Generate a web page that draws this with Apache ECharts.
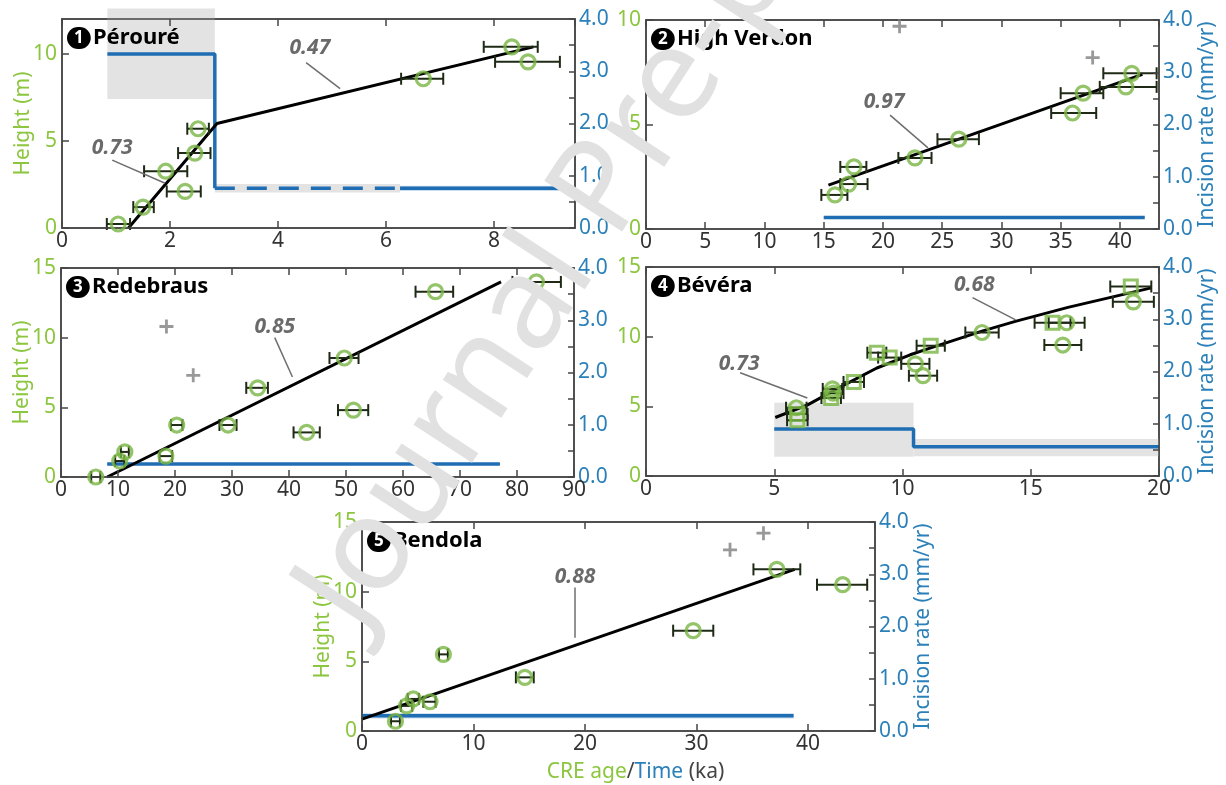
<!DOCTYPE html>
<html><head><meta charset="utf-8">
<script src="https://cdn.jsdelivr.net/npm/echarts@6/dist/echarts.min.js"></script>
<style>html,body{margin:0;padding:0;background:#fff}#c{width:1226px;height:785px}</style>
</head><body><div id="c"></div>
<script>
// ---------- DATA ----------
// Panel 1 – Pérouré
const p1Age    = [1.04, 1.5, 1.92, 2.28, 2.46, 2.52, 6.69, 8.33, 8.63];
const p1AgeLo  = [0.83, 1.32, 1.52, 1.94, 2.15, 2.32, 6.28, 7.81, 8.02];
const p1AgeHi  = [1.26, 1.70, 2.32, 2.57, 2.75, 2.72, 7.06, 8.81, 9.22];
const p1Height = [0.23, 1.2, 3.26, 2.1, 4.3, 5.7, 8.57, 10.4, 9.54];
const p1Fit    = [[1.23, 0], [2.87, 6.0], [8.73, 10.4]];
const p1Rate   = [[0.84, 3.33], [2.83, 3.33], [2.83, 0.76]];
const p1RateDashed = [[2.83, 0.76], [6.26, 0.76]];
const p1Rate2  = [[6.26, 0.76], [9.5, 0.76]];
const p1Bands  = [[0.84, 2.83, 2.47, 4.2], [2.83, 6.26, 0.68, 0.84]];
const p1BlueBands = [[6.26, 9.5, 0.71, 0.81]];
const p1Labels = [{ text: '0.73', at: [0.93, 4.57], from: [0.93, 3.9], to: [1.91, 2.57] },
                  { text: '0.47', at: [4.59, 10.34], from: [4.52, 9.49], to: [5.15, 8.0] }];

// Panel 2 – High Verdon
const p2Age    = [15.95, 17.1, 17.55, 22.7, 26.4, 36.0, 36.9, 40.5, 41.0];
const p2AgeLo  = [14.8, 16.4, 16.4, 21.3, 24.6, 34.2, 35.0, 38.3, 38.6];
const p2AgeHi  = [17.0, 18.7, 18.6, 24.1, 28.1, 38.0, 38.6, 43.1, 43.1];
const p2Height = [1.63, 2.15, 2.97, 3.4, 4.3, 5.55, 6.5, 6.8, 7.45];
const p2Crosses = [[21.4, 9.7], [37.7, 8.2]];
const p2Fit    = [[15.4, 2.1], [41.9, 7.4]];
const p2Rate   = [[15.0, 0.22], [42.1, 0.22]];
const p2Labels = [{ text: '0.97', at: [20.1, 6.08], from: [20.6, 5.45], to: [23.8, 3.88] }];

// Panel 3 – Redebraus
const p3Age    = [6.1, 10.3, 11.2, 18.4, 20.3, 29.3, 34.5, 43.1, 49.7, 51.3, 65.7, 83.4];
const p3AgeLo  = [5.3, 9.5, 10.5, 17.3, 19.3, 27.8, 32.5, 40.8, 47.1, 48.6, 62.2, 79.2];
const p3AgeHi  = [6.9, 11.1, 11.9, 19.5, 21.3, 30.8, 36.3, 45.4, 52.2, 53.9, 68.8, 87.7];
const p3Height = [0, 1.15, 1.8, 1.5, 3.73, 3.73, 6.4, 3.2, 8.54, 4.8, 13.3, 14.0];
const p3Crosses = [[18.5, 10.8], [23.2, 7.3]];
const p3Fit    = [[8.1, 0], [77.2, 14.0]];
const p3Rate   = [[8.1, 0.25], [77.0, 0.25]];
const p3Labels = [{ text: '0.85', at: [37.5, 10.77], from: [37.5, 10.0], to: [40.6, 7.18] }];

// Panel 4 – Bévéra (circles and squares)
const p4CircAge    = [5.86, 7.27, 7.3, 10.5, 10.8, 13.1, 16.25, 16.4, 19.0];
const p4CircErr    = [0.4, 0.38, 0.4, 0.55, 0.55, 0.65, 0.72, 0.7, 0.8];
const p4CircHeight = [4.9, 6.25, 5.95, 8.05, 7.2, 10.3, 9.4, 11.0, 12.5];
const p4SqAge      = [5.9, 5.9, 7.22, 8.1, 9.0, 9.5, 11.1, 15.85, 18.9];
const p4SqErr      = [0.4, 0.4, 0.38, 0.4, 0.37, 0.45, 0.55, 0.7, 0.8];
const p4SqHeight   = [4.45, 4.0, 5.6, 6.75, 8.85, 8.5, 9.35, 11.0, 13.6];
const p4Fit  = [[5.04, 4.2], [6.3, 5.1], [7.7, 6.5], [9.0, 7.75], [10.3, 8.7], [11.1, 9.2],
                [13.1, 10.4], [14.4, 11.1], [16.45, 12.1], [19.7, 13.5]];
const p4Rate = [[5.0, 0.9], [10.43, 0.9], [10.43, 0.56], [20.0, 0.56]];
const p4Bands = [[5.0, 10.43, 0.37, 1.40], [10.43, 20.0, 0.38, 0.71]];
const p4Labels = [{ text: '0.73', at: [3.63, 8.06], from: [3.67, 7.41], to: [6.29, 5.6] },
                  { text: '0.68', at: [12.8, 13.74], from: [12.73, 12.8], to: [14.41, 11.2] }];

// Panel 5 – Bendola
const p5Age    = [3.0, 4.0, 4.6, 6.1, 7.3, 14.6, 29.7, 37.2, 43.1];
const p5AgeLo  = [2.6, 3.5, 4.1, 5.5, 6.9, 13.8, 27.9, 35.1, 40.8];
const p5AgeHi  = [3.4, 4.5, 5.1, 6.6, 7.7, 15.4, 31.5, 39.3, 45.3];
const p5Height = [0.7, 1.8, 2.3, 2.1, 5.5, 3.85, 7.2, 11.6, 10.5];
const p5Crosses = [[33.0, 13.0], [36.0, 14.2]];
const p5Fit    = [[0, 0.85], [38.8, 11.6]];
const p5Rate   = [[0, 0.29], [38.7, 0.29]];
const p5BlueBands = [[0, 38.7, 0.24, 0.34]];
const p5Labels = [{ text: '0.88', at: [19.1, 11.07], from: [19.1, 10.3], to: [19.1, 6.7] }];

const panelNames = ['Pérouré', 'High Verdon', 'Redebraus', 'Bévéra', 'Bendola'];
const xMaxes = [9.5, 43.3, 90, 20, 46];
const xSteps = [2, 5, 10, 5, 10];
const yMaxes = [12, 10, 15, 15, 15];

// ---------- STYLE / LAYOUT ----------
const FONT = 'Noto Sans';
const AX = '#454545', GTXT = '#8cc63f', GMK = '#79b543', BTXT = '#2c80b9', BLN = '#1f6db3';
const ERR = '#1f2a16';
const layout = [{ left: 62, top: 19 }, { left: 646, top: 20 }, { left: 61, top: 268 }, { left: 646, top: 267 }, { left: 362, top: 522 }];
const W = 513, H = 209;

function zip3(a, b, c) { return a.map((v, i) => [v, b[i], c[i]]); }
function errFromPm(age, err, h) { return age.map((v, i) => [v - err[i], v + err[i], h[i]]); }

const panels = [
  { err: zip3(p1AgeLo, p1AgeHi, p1Height), circ: p1Age.map((v, i) => [v, p1Height[i]]), sq: [], crosses: [],
    fit: p1Fit, rates: [p1Rate, p1Rate2], dashed: [p1RateDashed], bands: p1Bands, blueBands: p1BlueBands, labels: p1Labels,
    leftName: true, rightName: false },
  { err: zip3(p2AgeLo, p2AgeHi, p2Height), circ: p2Age.map((v, i) => [v, p2Height[i]]), sq: [], crosses: p2Crosses,
    fit: p2Fit, rates: [p2Rate], dashed: [], bands: [], blueBands: [], labels: p2Labels, leftName: false, rightName: true },
  { err: zip3(p3AgeLo, p3AgeHi, p3Height), circ: p3Age.map((v, i) => [v, p3Height[i]]), sq: [], crosses: p3Crosses,
    fit: p3Fit, rates: [p3Rate], dashed: [], bands: [], blueBands: [], labels: p3Labels, leftName: true, rightName: false },
  { err: errFromPm(p4CircAge, p4CircErr, p4CircHeight).concat(errFromPm(p4SqAge, p4SqErr, p4SqHeight)),
    circ: p4CircAge.map((v, i) => [v, p4CircHeight[i]]), sq: p4SqAge.map((v, i) => [v, p4SqHeight[i]]), crosses: [],
    fit: p4Fit, rates: [p4Rate], dashed: [], bands: p4Bands, blueBands: [], labels: p4Labels, leftName: false, rightName: true },
  { err: zip3(p5AgeLo, p5AgeHi, p5Height), circ: p5Age.map((v, i) => [v, p5Height[i]]), sq: [], crosses: p5Crosses,
    fit: p5Fit, rates: [p5Rate], dashed: [], bands: [], blueBands: p5BlueBands, labels: p5Labels, leftName: true, rightName: true, xName: true }
];

const grids = [], xAxes = [], yAxes = [], series = [], titles = [];
const tickLabel = { fontSize: 21, fontFamily: FONT };

function errRender(params, api) {
  const a = api.coord([api.value(0), api.value(2)]);
  const b = api.coord([api.value(1), api.value(2)]);
  const c = 6, st = { stroke: ERR, lineWidth: 2 };
  return { type: 'group', children: [
    { type: 'line', shape: { x1: a[0], y1: a[1], x2: b[0], y2: b[1] }, style: st },
    { type: 'line', shape: { x1: a[0], y1: a[1] - c, x2: a[0], y2: a[1] + c }, style: st },
    { type: 'line', shape: { x1: b[0], y1: b[1] - c, x2: b[0], y2: b[1] + c }, style: st }
  ] };
}
function bandRender(color) {
  return function (params, api) {
    const p1 = api.coord([api.value(0), api.value(3)]);
    const p2 = api.coord([api.value(1), api.value(2)]);
    return { type: 'rect', shape: { x: p1[0], y: p1[1], width: p2[0] - p1[0], height: p2[1] - p1[1] }, style: { fill: color } };
  };
}
function labelRender(labels) {
  return function (params, api) {
    const L = labels[params.dataIndex];
    const t = api.coord([api.value(0), api.value(1)]);
    const a = api.coord([api.value(2), api.value(3)]);
    const b = api.coord([api.value(4), api.value(5)]);
    return { type: 'group', children: [
      { type: 'line', shape: { x1: a[0], y1: a[1], x2: b[0], y2: b[1] }, style: { stroke: '#6e6e6e', lineWidth: 1.5 } },
      { type: 'text', x: t[0], y: t[1], style: { text: L.text, fill: '#6a6a6a', fontSize: 21, fontWeight: 'bold', fontStyle: 'italic',
        fontFamily: FONT, align: 'center', verticalAlign: 'middle' } }
    ] };
  };
}

panels.forEach((p, i) => {
  const L = layout[i];
  grids.push({ left: L.left, top: L.top, width: W, height: H, show: true, borderColor: AX, borderWidth: 1.5 });
  const xBase = {
    gridIndex: i, type: 'value', min: 0, max: xMaxes[i], interval: xSteps[i], z: 5,
    axisLine: { show: true, onZero: false, lineStyle: { color: AX, width: 1.5 } },
    axisTick: { show: true, inside: true, length: 7, lineStyle: { color: AX, width: 1.5 } },
    splitLine: { show: false }
  };
  xAxes.push(Object.assign({}, xBase, {
    position: 'bottom',
    axisLabel: Object.assign({ color: '#333', margin: 3, showMaxLabel: xMaxes[i] % xSteps[i] === 0 }, tickLabel),
    name: p.xName ? '{g|CRE age}{k|/}{b|Time}{k| (ka)}' : '', nameLocation: 'middle', nameGap: 31,
    nameTextStyle: { padding: [0, 0, 0, 34], rich: {
      g: { color: GTXT, fontSize: 21, fontFamily: FONT }, b: { color: BTXT, fontSize: 21, fontFamily: FONT },
      k: { color: '#444', fontSize: 21, fontFamily: FONT } } }
  }));
  xAxes.push(Object.assign({}, xBase, { position: 'top', axisLabel: { show: false } }));
  yAxes.push({
    gridIndex: i, type: 'value', min: 0, max: yMaxes[i], interval: 5, position: 'left', z: 5,
    axisLine: { show: true, onZero: false, lineStyle: { color: AX, width: 1.5 } },
    axisTick: { show: true, inside: true, length: 7, lineStyle: { color: AX, width: 1.5 } },
    axisLabel: Object.assign({ color: GTXT, margin: 5, showMaxLabel: yMaxes[i] % 5 === 0 }, tickLabel),
    splitLine: { show: false },
    name: p.leftName ? 'Height (m)' : '', nameLocation: 'middle', nameGap: 28, nameMoveOverlap: false,
    nameTextStyle: { color: GTXT, fontSize: 21, fontFamily: FONT }
  });
  yAxes.push({
    gridIndex: i, type: 'value', min: 0, max: 4, interval: 0.5, position: 'right', z: 5,
    axisLine: { show: true, onZero: false, lineStyle: { color: AX, width: 1.5 } },
    axisTick: { show: true, inside: true, length: 6, lineStyle: { color: AX, width: 1.5 } },
    axisLabel: Object.assign({ color: BTXT, margin: 4, formatter: v => (Math.abs(v % 1) < 1e-9 ? v.toFixed(1) : '') }, tickLabel),
    splitLine: { show: false },
    name: p.rightName ? 'Incision rate (mm/yr)' : '', nameLocation: 'middle', nameGap: 38, nameRotate: 90,
    nameTextStyle: { color: BTXT, fontSize: 21, fontFamily: FONT }
  });
  const xi = 2 * i, yl = 2 * i, yr = 2 * i + 1;
  if (p.bands.length) series.push({ type: 'custom', xAxisIndex: xi, yAxisIndex: yr, z: 1, silent: true,
    renderItem: bandRender('#e3e3e3'), data: p.bands, encode: { x: [0, 1], y: [2, 3] } });
  if (p.blueBands.length) series.push({ type: 'custom', xAxisIndex: xi, yAxisIndex: yr, z: 1, silent: true,
    renderItem: bandRender('#c8ddef'), data: p.blueBands, encode: { x: [0, 1], y: [2, 3] } });
  p.rates.forEach(r => series.push({ type: 'line', xAxisIndex: xi, yAxisIndex: yr, data: r, showSymbol: false, z: 2,
    lineStyle: { color: BLN, width: 3.5 } }));
  p.dashed.forEach(r => series.push({ type: 'line', xAxisIndex: xi, yAxisIndex: yr, data: r, showSymbol: false, z: 2,
    lineStyle: { color: BLN, width: 3.5, type: [20, 12] } }));
  series.push({ type: 'line', xAxisIndex: xi, yAxisIndex: yl, data: p.fit, showSymbol: false, z: 3,
    lineStyle: { color: '#000', width: 3 } });
  series.push({ type: 'custom', xAxisIndex: xi, yAxisIndex: yl, z: 4, renderItem: errRender, data: p.err,
    encode: { x: [0, 1], y: 2 } });
  series.push({ type: 'scatter', xAxisIndex: xi, yAxisIndex: yl, z: 6, symbol: 'circle', symbolSize: 14, data: p.circ,
    itemStyle: { color: 'rgba(0,0,0,0)', borderColor: GMK, borderWidth: 3.2 } });
  if (p.sq.length) series.push({ type: 'scatter', xAxisIndex: xi, yAxisIndex: yl, z: 6, symbol: 'rect', symbolSize: 13, data: p.sq,
    itemStyle: { color: 'rgba(0,0,0,0)', borderColor: GMK, borderWidth: 3 } });
  if (p.crosses.length) series.push({ type: 'scatter', xAxisIndex: xi, yAxisIndex: yl, z: 6, symbolSize: 14, data: p.crosses,
    symbol: 'path://M4,0h2v4h4v2h-4v4h-2v-4h-4v-2h4z', itemStyle: { color: '#808080' } });
  series.push({ type: 'custom', xAxisIndex: xi, yAxisIndex: yl, z: 7, renderItem: labelRender(p.labels),
    data: p.labels.map(l => [l.at[0], l.at[1], l.from[0], l.from[1], l.to[0], l.to[1]]) });
  titles.push({
    left: L.left + 5, top: L.top + 7, padding: 0,
    text: '{n|' + (i + 1) + '}{s| }{t|' + panelNames[i] + '}',
    textStyle: { rich: {
      n: { backgroundColor: '#000', color: '#fff', borderRadius: 12, padding: [3, 7, 2, 7], lineHeight: 19,
           fontSize: 17, fontWeight: 'bold', fontFamily: FONT },
      s: { fontSize: 8 },
      t: { color: '#000', fontSize: 22, fontWeight: 'bold', fontFamily: FONT, lineHeight: 24 } } }
  });
});

const chart = echarts.init(document.getElementById('c'));
chart.setOption({
  animation: false,
  backgroundColor: '#fff',
  title: titles,
  grid: grids, xAxis: xAxes, yAxis: yAxes, series: series,
  graphic: [{ type: 'text', x: 329, y: 615, rotation: 57 * Math.PI / 180, z: 100, silent: true,
    style: { text: 'Journal Pre-proof', fill: '#e1e1e1', fontSize: 130, fontFamily: FONT, align: 'left', verticalAlign: 'middle' } }]
});
</script></body></html>
